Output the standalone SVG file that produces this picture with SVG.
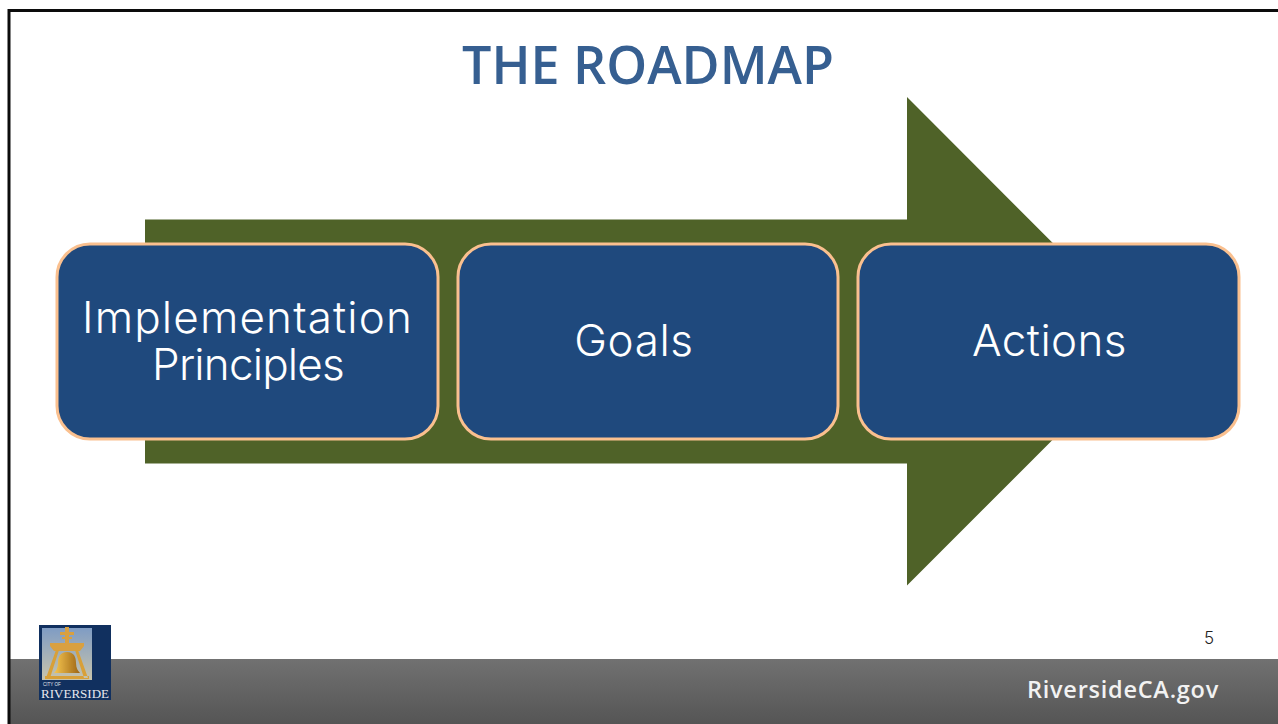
<svg xmlns="http://www.w3.org/2000/svg" width="1278" height="724" viewBox="0 0 1278 724">
<style>
.box{fill:#1f497d;stroke:#fac08f;stroke-width:3}
.lbl{font-family:"Inter","Noto Sans","Liberation Sans",sans-serif;font-size:44px;fill:#fff;text-anchor:middle;font-weight:300}
</style>
<defs>
<linearGradient id="bar" x1="0" y1="0" x2="0" y2="1"><stop offset="0" stop-color="#717171"/><stop offset="1" stop-color="#555555"/></linearGradient>
<linearGradient id="sky" x1="0" y1="0" x2="0" y2="1"><stop offset="0" stop-color="#7f9cc4"/><stop offset="1" stop-color="#c8c4ac"/></linearGradient>
<linearGradient id="bell" x1="0" y1="0" x2="1" y2="0"><stop offset="0" stop-color="#f6c650"/><stop offset="1" stop-color="#9c6414"/></linearGradient>
<filter id="soft" x="-5%" y="-5%" width="110%" height="110%"><feGaussianBlur stdDeviation="0.5"/></filter>
</defs>
<rect width="1278" height="724" fill="#fff"/>
<rect x="10" y="659" width="1268" height="65" fill="url(#bar)"/>
<path d="M9 724V10.500H1278" fill="none" stroke="#0c0c0c" stroke-width="3"/>
<text x="648" y="84" font-family="'Open Sans','Liberation Sans',sans-serif" font-weight="600" font-size="52" fill="#365f91" text-anchor="middle">THE ROADMAP</text>
<g id="arrow"><path d="M145 219.500H907V97L1151 341.300L907 585.500V463.500H145Z" fill="#4f6228"/></g>
<g id="node-principles"><rect class="box" x="57" y="244" width="381" height="195" rx="33"/>
<text class="lbl"><tspan x="247.500" y="333" letter-spacing="1.150">Implementation</tspan><tspan x="248" y="380" letter-spacing="-0.800">Principles</tspan></text></g>
<g id="node-goals"><rect class="box" x="458" y="244" width="380" height="195" rx="33"/>
<text class="lbl" x="634" y="356" letter-spacing="0.600">Goals</text></g>
<g id="node-actions"><rect class="box" x="858" y="244" width="381" height="195" rx="33"/>
<text class="lbl" x="1049.500" y="356" letter-spacing="0.400">Actions</text></g>
<g id="connectors"></g>
<g id="logo">
<rect x="39" y="625" width="72" height="75" fill="#11305f"/>
<g filter="url(#soft)">
<rect x="42" y="628" width="50" height="52" fill="url(#sky)"/>
<path d="M65 627h4v5h5v3h-5v2h3v2h-3v4h-4v-4h-3v-2h3v-2h-5v-3h5zM50 643h34v3l-4 5h-26l-4-5z" fill="#d9a040"/>
<path d="M56 650h3l-9 28h-4zM78 650h-3l9 28h4zM45 676h44v3h-44z" fill="#d8a038"/>
<path d="M67 652c-7 0-9 5-9 11c0 5-2 8-4 10h26c-2-2-4-5-4-10c0-6-2-11-9-11z" fill="url(#bell)"/>
</g>
<text x="41" y="698" font-family="'Liberation Serif',serif" font-size="13.500" fill="#e8e8ee" textLength="68" lengthAdjust="spacingAndGlyphs">RIVERSIDE</text>
<text x="43" y="686" font-family="'Liberation Sans',sans-serif" font-size="4.500" fill="#e8e8ee">CITY OF</text>
</g>
<text x="1209" y="644" font-family="'Inter','Liberation Sans',sans-serif" font-size="17" font-weight="300" fill="#222" text-anchor="middle">5</text>
<text x="1027" y="698" font-family="'Open Sans','Liberation Sans',sans-serif" font-weight="600" font-size="23.500" letter-spacing="0.750" fill="#f2f2f2">RiversideCA.gov</text>
</svg>
